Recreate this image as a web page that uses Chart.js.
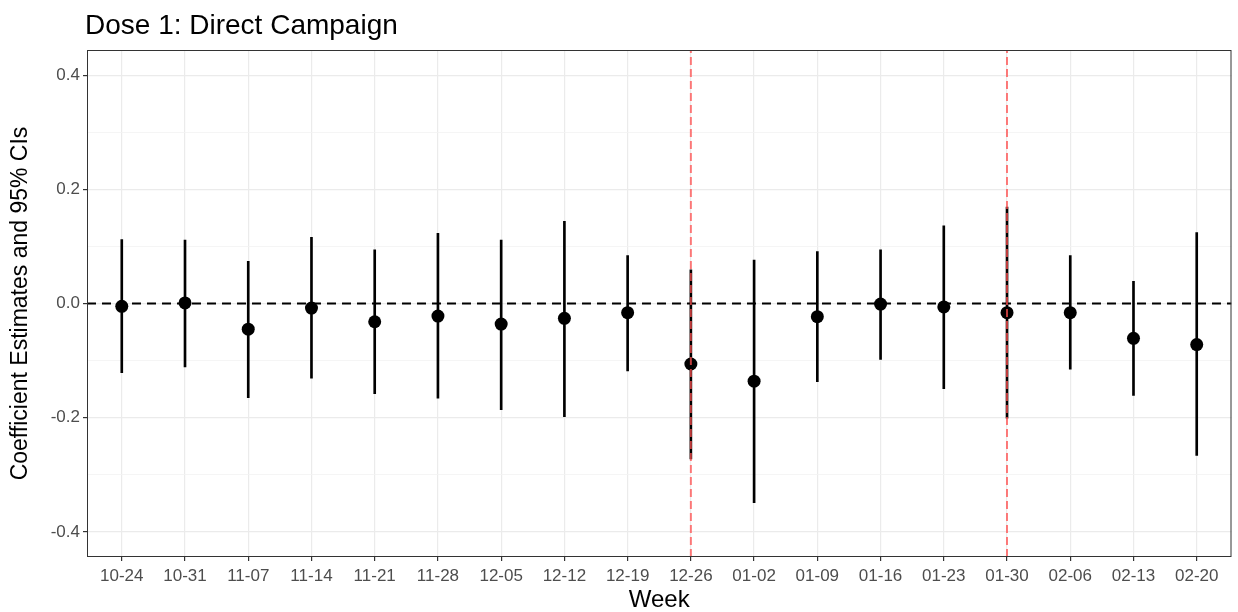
<!DOCTYPE html>
<html>
<head>
<meta charset="utf-8">
<script src="https://cdn.jsdelivr.net/npm/chart.js@4.4.0/dist/chart.umd.min.js"></script>
<style>
  body { margin: 0; background: #fff; }
</style>
</head>
<body>
<canvas id="chartDose1" width="1238" height="612"></canvas>
<script>
const weeks = ['10-24', '10-31', '11-07', '11-14', '11-21', '11-28', '12-05', '12-12', '12-19',
               '12-26', '01-02', '01-09', '01-16', '01-23', '01-30', '02-06', '02-13', '02-20'];
const estimates = [-0.005, 0.001, -0.045, -0.008, -0.032, -0.022, -0.036, -0.026, -0.016,
                   -0.106, -0.136, -0.023, -0.001, -0.006, -0.016, -0.016, -0.061, -0.072];
const ciLower = [-0.121, -0.111, -0.165, -0.131, -0.158, -0.166, -0.186, -0.198, -0.118,
                 -0.272, -0.349, -0.137, -0.098, -0.149, -0.201, -0.115, -0.161, -0.266];
const ciUpper = [0.112, 0.111, 0.074, 0.116, 0.094, 0.123, 0.111, 0.144, 0.084,
                 0.059, 0.076, 0.091, 0.094, 0.136, 0.169, 0.084, 0.039, 0.124];
const markedWeeks = ['12-26', '01-30'];
const yTicks = [-0.4, -0.3, -0.2, -0.1, 0, 0.1, 0.2, 0.3, 0.4];

const xMin = -0.55, xMax = weeks.length - 1 + 0.55;
const yMin = -0.444, yMax = 0.444;
const fam = '"Liberation Sans", Arial, sans-serif';

// titulo y borde del panel
const panelPlugin = {
  id: 'panel',
  afterDraw(chart) {
    const ctx = chart.ctx;
    const a = chart.chartArea;
    ctx.save();
    ctx.strokeStyle = '#333333';
    ctx.lineWidth = 1;
    ctx.strokeRect(a.left + 0.5, a.top + 0.5, a.right - a.left - 1, a.bottom - a.top - 1);
    ctx.fillStyle = '#000';
    ctx.font = '28px ' + fam;
    ctx.textBaseline = 'alphabetic';
    ctx.fillText('Dose 1: Direct Campaign', a.left - 2, 34);
    ctx.restore();
  }
};

const ctx = document.getElementById('chartDose1').getContext('2d');
new Chart(ctx, {
  data: {
    datasets: [
      ...markedWeeks.map(w => ({
        type: 'line',
        data: [{ x: weeks.indexOf(w), y: yMin }, { x: weeks.indexOf(w), y: yMax }],
        borderColor: 'rgba(255, 80, 80, 0.75)',
        borderWidth: 2,
        borderDash: [8, 4],
        pointRadius: 0,
        order: 0
      })),
      {
        type: 'scatter',
        data: weeks.map((w, i) => ({ x: i, y: estimates[i] })),
        backgroundColor: '#000',
        pointRadius: 6.5,
        pointBorderWidth: 0,
        order: 1
      },
      {
        type: 'line',
        data: [{ x: xMin, y: 0 }, { x: xMax, y: 0 }],
        borderColor: '#000',
        borderWidth: 2,
        borderDash: [9, 6],
        pointRadius: 0,
        order: 2
      },
      {
        type: 'bar',
        data: weeks.map((w, i) => ({ x: i, y: [ciLower[i], ciUpper[i]] })),
        backgroundColor: '#000',
        barThickness: 2,
        grouped: false,
        order: 3
      }
    ]
  },
  options: {
    responsive: false,
    animation: false,
    devicePixelRatio: 1,
    layout: { padding: { top: 50, right: 6, left: 0, bottom: 0 } },
    plugins: {
      legend: { display: false },
      tooltip: { enabled: false }
    },
    scales: {
      x: {
        type: 'linear',
        min: xMin,
        max: xMax,
        offset: false,
        afterBuildTicks: s => { s.ticks = weeks.map((w, i) => ({ value: i })); },
        afterFit: s => { s.height = 55; },
        ticks: {
          autoSkip: false,
          maxRotation: 0,
          color: '#4D4D4D',
          font: { size: 17, family: fam },
          padding: 5,
          callback: v => weeks[v]
        },
        grid: { offset: false, color: '#EBEBEB', lineWidth: 1.2, tickColor: '#333333', tickLength: 4 },
        border: { display: false },
        title: {
          display: true,
          text: 'Week',
          color: '#000',
          font: { size: 24, family: fam, lineHeight: 1 },
          padding: { top: 0, bottom: 0 }
        }
      },
      y: {
        type: 'linear',
        min: yMin,
        max: yMax,
        afterBuildTicks: s => { s.ticks = yTicks.map(v => ({ value: v })); },
        afterFit: s => { s.width = 87; },
        ticks: {
          color: '#4D4D4D',
          font: { size: 17, family: fam },
          padding: 3,
          callback: (v, i) => (i % 2 === 0 ? v.toFixed(1) : '')
        },
        grid: {
          color: c => (c.index % 2 === 0 ? '#EBEBEB' : '#F3F3F3'),
          lineWidth: c => (c.index % 2 === 0 ? 1.2 : 0.8),
          tickColor: c => (c.index % 2 === 0 ? '#333333' : 'rgba(0,0,0,0)'),
          tickLength: 4
        },
        border: { display: false },
        title: {
          display: true,
          text: 'Coefficient Estimates and 95% CIs',
          color: '#000',
          font: { size: 23, family: fam },
          padding: { top: 7, bottom: 0 }
        }
      }
    }
  },
  plugins: [panelPlugin]
});
</script>
</body>
</html>
